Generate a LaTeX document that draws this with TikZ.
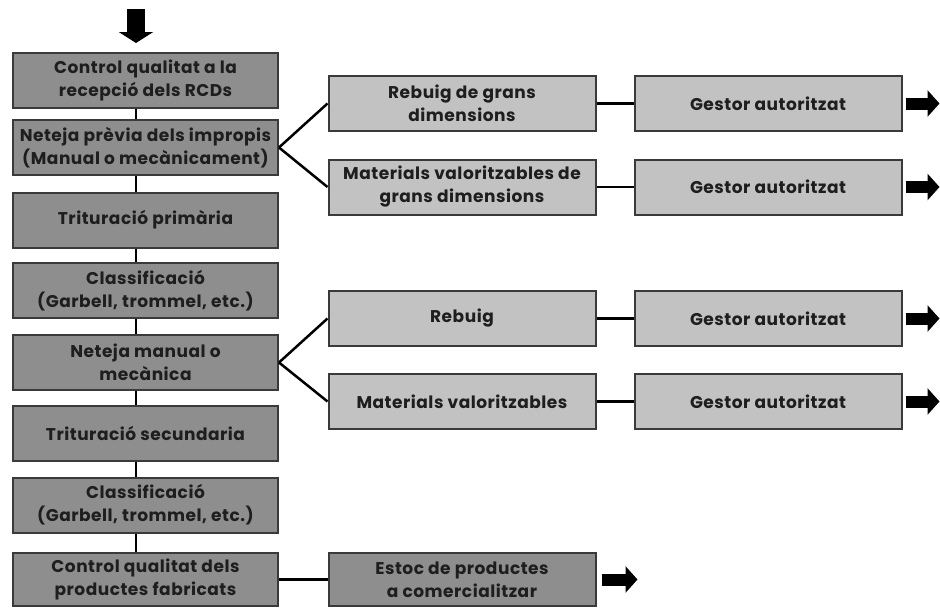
\documentclass[tikz,border=0pt]{standalone}
\usepackage{fontspec}
\setmainfont{Poppins}[LetterSpace=3]
\usetikzlibrary{arrows.meta}
\definecolor{darkbox}{HTML}{8E8E8E}
\definecolor{lightbox}{HTML}{C2C2C2}
\definecolor{edge}{HTML}{3A3A3A}
\definecolor{ink}{HTML}{1E1E1E}
\tikzset{
  boxbase/.style={draw=edge, line width=2pt, inner sep=0pt, align=center,
    text=ink, font=\fontsize{17}{23}\selectfont\bfseries},
  leftbox/.style={boxbase, fill=darkbox, minimum width=265pt, minimum height=55pt},
  sidebox/.style={boxbase, fill=lightbox, minimum width=267pt, minimum height=55pt},
  link/.style={draw=black, line width=2.5pt},
  blockarrow/.style={line width=12pt, -{Triangle[width=26pt,length=12pt]}},
  bigdown/.style={line width=18pt, -{Triangle[width=34pt,length=11pt]}}
}
\begin{document}
\begin{tikzpicture}[x=1pt,y=-1pt]
\useasboundingbox (0,0) rectangle (940,608);
% left column
\node[leftbox] (c1) at (145.5,80) {Control qualitat a la\\recepció dels RCDs};
\node[leftbox] (c2) at (145.5,147.5) {Neteja prèvia dels impropis\\(Manual o mecànicament)};
\node[leftbox] (c3) at (145.5,220) {Trituració primària};
\node[leftbox] (c4) at (145.5,290.5) {Classificació\\(Garbell, trommel, etc.)};
\node[leftbox] (c5) at (145.5,362.5) {Neteja manual o\\mecànica};
\node[leftbox] (c6) at (145.5,433) {Trituració secundaria};
\node[leftbox] (c7) at (145.5,505) {Classificació\\(Garbell, trommel, etc.)};
\node[leftbox, minimum height=53pt] (c8) at (145.5,579.5) {Control qualitat dels\\productes fabricats};
% middle column
\node[sidebox] (m1) at (462,103.5) {Rebuig de grans\\dimensions};
\node[sidebox] (m2) at (462,187) {Materials valoritzables de\\grans dimensions};
\node[sidebox] (m3) at (462,318.5) {Rebuig};
\node[sidebox] (m4) at (462,401.5) {Materials valoritzables};
\node[leftbox, minimum width=267pt, minimum height=53pt] (m5) at (462,579.5) {Estoc de productes\\a comercialitzar};
% right column
\node[sidebox] (r1) at (768,103.5) {Gestor autoritzat};
\node[sidebox] (r2) at (768,187) {Gestor autoritzat};
\node[sidebox] (r3) at (768,318.5) {Gestor autoritzat};
\node[sidebox] (r4) at (768,401.5) {Gestor autoritzat};
% vertical spine
\foreach \a/\b in {c1/c2,c2/c3,c3/c4,c4/c5,c5/c6,c6/c7,c7/c8}{
  \draw[link] (\a.south -| 136,0) -- (\b.north -| 136,0);
}
% branches
\draw[link] (c2.east) -- (m1.west);
\draw[link] (c2.east) -- (m2.west);
\draw[link] (c5.east) -- (m3.west);
\draw[link] (c5.east) -- (m4.west);
\draw[link] (m1) -- (r1);
\draw[link] (m2) -- (r2);
\draw[link] (m3) -- (r3);
\draw[link] (m4) -- (r4);
\draw[link] (c8) -- (m5);
% arrows
\coordinate (inTop) at (136,9);
\coordinate (inEnd) at (136,43);
\draw[bigdown] (inTop) -- (inEnd);
\foreach \r in {r1,r2,r3,r4}{
  \coordinate (\r a) at ([xshift=3pt]\r.east);
  \coordinate (\r b) at ([xshift=37pt]\r.east);
  \draw[blockarrow] (\r a) -- (\r b);
}
\coordinate (m5a) at ([xshift=5pt]m5.east);
\coordinate (m5b) at ([xshift=41pt]m5.east);
\draw[blockarrow] (m5a) -- (m5b);
\end{tikzpicture}
\end{document}
